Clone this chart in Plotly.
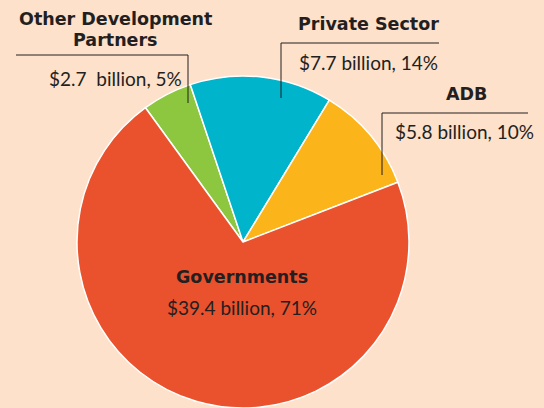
import plotly.graph_objects as go

# Data
labels = ["Other Development Partners", "Private Sector", "ADB", "Governments"]
values = [2.7, 7.7, 5.8, 39.4]
percents = ["5%", "14%", "10%", "71%"]
value_texts = ["$2.7\u00a0 billion, 5%", "$7.7 billion, 14%", "$5.8 billion, 10%", "$39.4 billion, 71%"]
colors = ["#8DC63F", "#00B4CB", "#FBB41A", "#E9522C"]

W, H = 544, 408
BG = "#FDE1CB"
TXT = "#231F20"

def px(x):
    return x / W

def py(y):
    return 1 - y / H

fig = go.Figure(go.Pie(
    labels=labels,
    values=values,
    sort=False,
    direction="clockwise",
    rotation=-36,
    marker=dict(colors=colors, line=dict(color="white", width=1.5)),
    textinfo="none",
    hoverinfo="label+value+percent",
    showlegend=False,
    domain=dict(x=[0, 486 / W], y=[0, 332 / H]),
))

TITLE_FONT = dict(family="DejaVu Sans", size=17.5, color=TXT, weight="bold")
VAL_FONT = dict(family="Lato", size=19, color=TXT)

ann = []
def add(text, x, y, font, xanchor="center"):
    ann.append(dict(text=text, x=px(x), y=py(y), xref="paper", yref="paper",
                    xanchor=xanchor, yanchor="middle", showarrow=False, font=font))

add("Other Development", 115, 19, TITLE_FONT)
add("Partners", 115, 40, TITLE_FONT)
add("Private Sector", 368, 24, TITLE_FONT)
add("ADB", 489, 94, TITLE_FONT, xanchor="right")
add("Governments", 242, 277, TITLE_FONT)

add(value_texts[0], 184, 79, VAL_FONT, xanchor="right")
add(value_texts[1], 297, 62, VAL_FONT, xanchor="left")
add(value_texts[2], 393, 132, VAL_FONT, xanchor="left")
add(value_texts[3], 242, 307, VAL_FONT)

line = dict(color=TXT, width=1)
shapes = [
    dict(type="line", xref="paper", yref="paper", x0=px(16), y0=py(55), x1=px(188), y1=py(55), line=line),
    dict(type="line", xref="paper", yref="paper", x0=px(188), y0=py(55), x1=px(188), y1=py(103), line=line),
    dict(type="line", xref="paper", yref="paper", x0=px(281), y0=py(43), x1=px(439), y1=py(43), line=line),
    dict(type="line", xref="paper", yref="paper", x0=px(281), y0=py(43), x1=px(281), y1=py(98), line=line),
    dict(type="line", xref="paper", yref="paper", x0=px(382), y0=py(113), x1=px(528), y1=py(113), line=line),
    dict(type="line", xref="paper", yref="paper", x0=px(382), y0=py(113), x1=px(382), y1=py(175), line=line),
]

fig.update_layout(
    width=W, height=H,
    margin=dict(l=0, r=0, t=0, b=0),
    paper_bgcolor=BG, plot_bgcolor=BG,
    annotations=ann,
    shapes=shapes,
)

fig.write_html(
    "out.html",
    config={"displayModeBar": False},
    post_script="document.body.style.margin='0';document.body.style.overflow='hidden';",
)
